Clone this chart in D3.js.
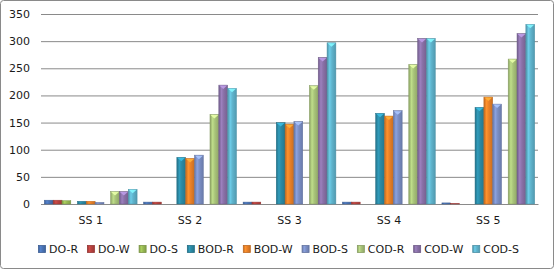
<!DOCTYPE html>
<html>
<head>
<meta charset="utf-8">
<script src="https://cdn.jsdelivr.net/npm/d3@7"></script>
<style>
  html, body { margin: 0; padding: 0; background: #fff; }
  svg { display: block; }
  text { font-family: "DejaVu Sans", Verdana, sans-serif; font-size: 11px; fill: #1a1a1a; }
</style>
</head>
<body>
<div id="chart"></div>
<script>
// ---- data ----
const categories = ["SS 1", "SS 2", "SS 3", "SS 4", "SS 5"];
const groups = ["DO", "BOD", "COD"];
const sites = ["R", "W", "S"];
const seriesNames = ["DO-R", "DO-W", "DO-S", "BOD-R", "BOD-W", "BOD-S", "COD-R", "COD-W", "COD-S"];
const seriesColors = ["#4a74b6", "#b8423f", "#98b954", "#2b8aa5", "#ea8128", "#7b8fc6", "#a9c47a", "#8a71a8", "#5fb4cd"];
const doR  = [7, 3.5, 3.5, 3.5, 2];
const doW  = [7, 3.5, 3.5, 3.5, 0.6];
const doS  = [6, 0, 0, 0, 0];
const bodR = [5, 86, 150, 167, 178];
const bodW = [5, 84, 147, 162, 197];
const bodS = [3, 90, 152, 172, 184];
const codR = [23, 165, 218, 257, 267];
const codW = [23, 219, 270, 305, 314];
const codS = [27, 213, 297, 305, 331];
const yTicks = [0, 50, 100, 150, 200, 250, 300, 350];
const seriesValues = [doR, doW, doS, bodR, bodW, bodS, codR, codW, codS];

// ---- layout ----
const W = 555, H = 270;
const plot = { left: 41, right: 538, top: 14, bottom: 204 };

const svg = d3.select("#chart").append("svg").attr("width", W).attr("height", H);
const defs = svg.append("defs");

// outer frame
svg.append("rect")
  .attr("x", 0.5).attr("y", 0.5).attr("width", W - 2).attr("height", H - 2)
  .attr("rx", 3).attr("fill", "#fff").attr("stroke", "#8a8a8a").attr("stroke-width", 1);

const x0 = d3.scaleBand().domain(categories).range([plot.left, plot.right]).padding(0);
const x1 = d3.scaleBand().domain(groups).range([0, x0.bandwidth()]).paddingInner(0.2).paddingOuter(0.1);
const x2 = d3.scaleBand().domain(sites).range([0, x1.bandwidth()]).padding(0);
const y = d3.scaleLinear().domain([0, 350]).range([plot.bottom, plot.top]);

// gradients
seriesColors.forEach((c, i) => {
  const g = defs.append("linearGradient").attr("id", "g" + i).attr("x1", "0").attr("x2", "1").attr("y1", "0").attr("y2", "0");
  const base = d3.color(c);
  g.append("stop").attr("offset", "0%").attr("stop-color", base.darker(0.55));
  g.append("stop").attr("offset", "30%").attr("stop-color", base.brighter(0.35));
  g.append("stop").attr("offset", "55%").attr("stop-color", base);
  g.append("stop").attr("offset", "100%").attr("stop-color", base.darker(0.45));
});

// grid + y axis
const yAxis = d3.axisLeft(y).tickValues(yTicks).tickSize(-(plot.right - plot.left)).tickPadding(11);
const gy = svg.append("g").attr("transform", `translate(${plot.left},0)`).call(yAxis);
gy.select(".domain").remove();
gy.selectAll(".tick line").attr("stroke", "#8a8a8a").attr("stroke-width", 1);
gy.selectAll(".tick text").attr("fill", "#1a1a1a").style("font-family", '"DejaVu Sans", Verdana, sans-serif').style("font-size", "11px");

// x axis
const xAxis = d3.axisBottom(x0).tickSize(0).tickPadding(12);
const gx = svg.append("g").attr("transform", `translate(0,${plot.bottom})`).call(xAxis);
gx.select(".domain").attr("stroke", "#8a8a8a");
gx.selectAll(".tick text").attr("fill", "#1a1a1a").style("font-family", '"DejaVu Sans", Verdana, sans-serif').style("font-size", "11px");

// bars
const barData = [];
seriesNames.forEach((name, si) => {
  const grp = groups[Math.floor(si / 3)];
  const site = sites[si % 3];
  categories.forEach((cat, ci) => {
    barData.push({ name, si, grp, site, cat, v: seriesValues[si][ci] });
  });
});

const bars = svg.append("g").selectAll("g.bar").data(barData.filter(d => d.v > 0)).join("g").attr("class", "bar");
bars.append("rect")
  .attr("x", d => x0(d.cat) + x1(d.grp) + x2(d.site))
  .attr("y", d => y(d.v))
  .attr("width", x2.bandwidth())
  .attr("height", d => plot.bottom - y(d.v))
  .attr("fill", d => `url(#g${d.si})`)
  .attr("stroke", d => d3.color(seriesColors[d.si]).darker(0.6))
  .attr("stroke-width", 0.5);
// top bevel highlight
bars.filter(d => plot.bottom - y(d.v) > 5).append("path")
  .attr("d", d => {
    const bx = x0(d.cat) + x1(d.grp) + x2(d.site), bw = x2.bandwidth(), by = y(d.v);
    return `M${bx + 0.5},${by + 0.5}L${bx + bw - 0.5},${by + 0.5}L${bx + bw / 2},${by + 4}Z`;
  })
  .attr("fill", d => d3.color(seriesColors[d.si]).brighter(0.9))
  .attr("opacity", 0.9);

// legend
const legend = svg.append("g").attr("transform", "translate(0,249)");
const items = legend.selectAll("g").data(seriesNames).join("g");
items.append("text").text(d => d).attr("dy", "0.35em");
const widths = [];
items.select("text").each(function () { widths.push(this.getComputedTextLength()); });
const mk = 8, mkGap = 3, startX = 38, endX = 519;
const used = d3.sum(widths) + seriesNames.length * (mk + mkGap);
const gap = (endX - startX - used) / (seriesNames.length - 1);
let cx = startX;
items.each(function (d, i) {
  const g = d3.select(this);
  g.attr("transform", `translate(${cx},0)`);
  g.insert("rect", "text").attr("x", 0.5).attr("y", -3.5).attr("width", mk - 1).attr("height", mk - 1)
    .attr("fill", `url(#g${i})`).attr("stroke", d3.color(seriesColors[i]).darker(0.6)).attr("stroke-width", 0.8);
  g.select("text").attr("x", mk + mkGap);
  cx += mk + mkGap + widths[i] + gap;
});
</script>
</body>
</html>
